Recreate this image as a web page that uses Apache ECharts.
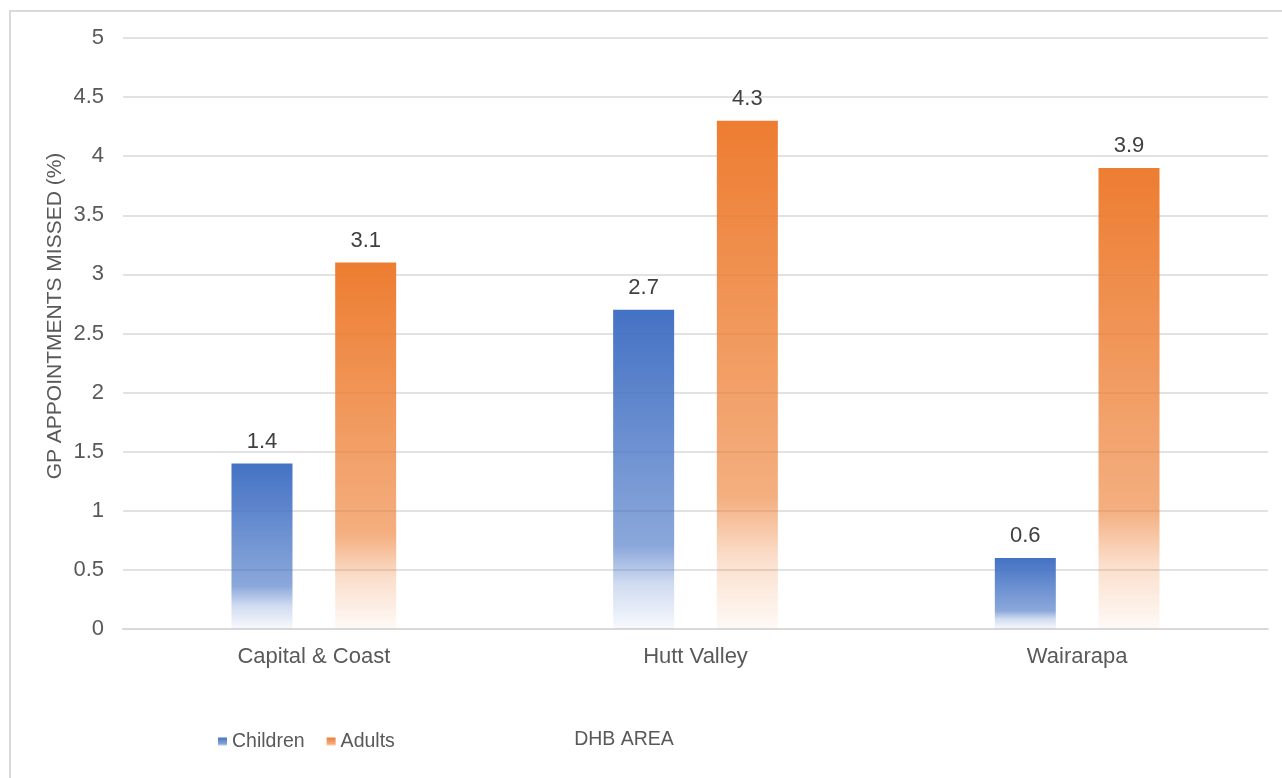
<!DOCTYPE html>
<html>
<head>
<meta charset="utf-8">
<script src="https://cdn.jsdelivr.net/npm/echarts@6/dist/echarts.min.js"></script>
<style>
html,body{margin:0;padding:0;background:#fff;}
#main{width:1282px;height:778px;}
</style>
</head>
<body>
<div id="main"></div>
<script>
const categories = ['Capital & Coast', 'Hutt Valley', 'Wairarapa'];
const children = [1.4, 2.7, 0.6];
const adults = [3.1, 4.3, 3.9];
const seriesNames = ['Children', 'Adults'];
const yTicks = [0, 0.5, 1, 1.5, 2, 2.5, 3, 3.5, 4, 4.5, 5];

function grad(r, g, b) {
  return new echarts.graphic.LinearGradient(0, 0, 0, 1, [
    {offset: 0, color: `rgba(${r},${g},${b},1)`},
    {offset: 0.74, color: `rgba(${r},${g},${b},0.62)`},
    {offset: 0.86, color: `rgba(${r},${g},${b},0.25)`},
    {offset: 1, color: `rgba(${r},${g},${b},0.04)`}
  ]);
}

const chart = echarts.init(document.getElementById('main'));
const font = 'Liberation Sans, Arial, sans-serif';
chart.setOption({
  animation: false,
  textStyle: {fontFamily: font},
  grid: {left: 123, right: 14, top: 38, bottom: 149, containLabel: false},
  legend: {
    data: seriesNames,
    left: 213, top: 727,
    itemWidth: 9, itemHeight: 9, itemGap: 22,
    icon: 'rect',
    textStyle: {fontSize: 19.5, color: '#595959', fontFamily: font}
  },
  xAxis: {
    type: 'category',
    data: categories,
    axisLine: {lineStyle: {color: '#d9d9d9', width: 2}},
    axisTick: {show: false},
    axisLabel: {fontSize: 22, color: '#595959', margin: 17, fontFamily: font}
  },
  yAxis: {
    type: 'value',
    min: 0, max: 5, interval: 0.5,
    axisLine: {show: false},
    axisTick: {show: false},
    splitLine: {lineStyle: {color: '#d9d9d9', width: 1.5}},
    axisLabel: {fontSize: 22, color: '#595959', margin: 19, fontFamily: font,
      formatter: v => String(yTicks[Math.round(v * 2)])}
  },
  series: [
    {
      name: seriesNames[0], type: 'bar', data: children,
      barWidth: 61, barGap: '70%',
      itemStyle: {color: grad(68, 114, 196)},
      label: {show: true, position: 'top', distance: 11, fontSize: 22, color: '#404040', fontFamily: font}
    },
    {
      name: seriesNames[1], type: 'bar', data: adults,
      barWidth: 61,
      itemStyle: {color: grad(237, 125, 49)},
      label: {show: true, position: 'top', distance: 11, fontSize: 22, color: '#404040', fontFamily: font}
    }
  ],
  graphic: [
    {type: 'rect', shape: {x: 10, y: 11, width: 1300, height: 800}, style: {fill: 'none', stroke: '#d9d9d9', lineWidth: 2}, silent: true, z: -10},
    {type: 'text', x: 624, y: 740, style: {text: 'DHB AREA', fontSize: 19.5, fill: '#595959', fontFamily: font, align: 'center', verticalAlign: 'middle'}},
    {type: 'text', x: 55, y: 316, rotation: Math.PI / 2, style: {text: 'GP APPOINTMENTS MISSED (%)', fontSize: 21, fill: '#595959', fontFamily: font, align: 'center', verticalAlign: 'middle'}}
  ]
});
</script>
</body>
</html>
